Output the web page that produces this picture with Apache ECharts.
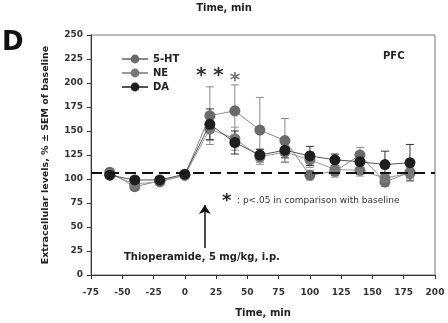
<!DOCTYPE html>
<html>
<head>
<meta charset="utf-8">
<script src="https://cdn.jsdelivr.net/npm/echarts@6/dist/echarts.min.js"></script>
<style>
  html, body { margin: 0; padding: 0; background: #fff; }
  #chart { width: 448px; height: 323px; }
</style>
</head>
<body>
<div id="chart"></div>
<script>
// time points (min) and % of baseline
var times = [-60, -40, -20, 0, 20, 40, 60, 80, 100, 120, 140, 160, 180]
var ht5 = [107, 92, 98, 104, 166, 171, 151, 140, 104, 108, 125, 97, 107]
var ne = [105, 95, 97, 104, 152, 142, 123, 128, 120, 110, 109, 101, 106]
var da = [104, 99, 99, 105, 157, 138, 125, 130, 124, 120, 118, 115, 117]
// SEM
var ht5Err = [4, 4, 3, 3, 30, 27, 34, 23, 5, 6, 8, 5, 6]
var neErr = [3, 4, 3, 3, 12, 12, 8, 10, 8, 6, 6, 6, 6]
var daErr = [3, 3, 3, 3, 16, 12, 6, 8, 10, 6, 6, 14, 19]
var baseline = 106
var arrowT = 16
var arrowFrom = 28
var arrowTo = 73

var font = 'DejaVu Sans'
var chart = echarts.init(document.getElementById('chart'))

function pts (vals) {
  return times.map(function (t, i) { return [t, vals[i]] })
}
function errPts (vals, errs) {
  return times.map(function (t, i) { return [t, vals[i], errs[i]] })
}
function errSeries (vals, errs, color) {
  return {
    type: 'custom',
    silent: true,
    z: 1,
    data: errPts(vals, errs),
    renderItem: function (params, api) {
      var x = api.value(0)
      var v = api.value(1)
      var e = api.value(2)
      var hi = api.coord([x, v + e])
      var lo = api.coord([x, v - e])
      var w = 4
      var st = { stroke: color, lineWidth: 1 }
      return {
        type: 'group',
        children: [
          { type: 'line', shape: { x1: hi[0], y1: hi[1], x2: lo[0], y2: lo[1] }, style: st },
          { type: 'line', shape: { x1: hi[0] - w, y1: hi[1], x2: hi[0] + w, y2: hi[1] }, style: st },
          { type: 'line', shape: { x1: lo[0] - w, y1: lo[1], x2: lo[0] + w, y2: lo[1] }, style: st }
        ]
      }
    }
  }
}

var option = {
  animation: false,
  textStyle: { fontFamily: font },
  grid: {
    left: 91, right: 13, top: 35, bottom: 48,
    show: true, borderColor: '#777', borderWidth: 1
  },
  legend: {
    data: ['5-HT', 'NE', 'DA'],
    orient: 'vertical',
    left: 116,
    top: 49,
    itemWidth: 26,
    itemHeight: 11,
    itemGap: 4,
    textStyle: { fontFamily: font, fontWeight: 'bold', fontSize: 10, color: '#222' }
  },
  xAxis: {
    type: 'value',
    min: -75, max: 200, interval: 25,
    name: 'Time, min',
    nameLocation: 'middle',
    nameGap: 33,
    nameTextStyle: { fontFamily: font, fontWeight: 'bold', fontSize: 10, color: '#222' },
    splitLine: { show: false },
    axisLine: { onZero: false, lineStyle: { color: '#333' } },
    axisTick: { length: 4, lineStyle: { color: '#333' } },
    axisLabel: { fontFamily: font, fontWeight: 'bold', fontSize: 9, color: '#333', margin: 13 }
  },
  yAxis: {
    type: 'value',
    min: 0, max: 250, interval: 25,
    name: 'Extracellular levels, % \u00b1 SEM of baseline',
    nameLocation: 'middle',
    nameGap: 40,
    nameTextStyle: { fontFamily: font, fontWeight: 'bold', fontSize: 9.5, color: '#222' },
    splitLine: { show: false },
    axisLine: { show: true, onZero: false, lineStyle: { color: '#333' } },
    axisTick: { show: true, length: 4, lineStyle: { color: '#333' } },
    axisLabel: { fontFamily: font, fontWeight: 'bold', fontSize: 9, color: '#333', margin: 8 }
  },
  graphic: [
    { type: 'text', left: 'center', top: 3, style: { text: 'Time, min', font: 'bold 10px "DejaVu Sans"', fill: '#222' }, x: 26 },
    { type: 'text', left: 2, top: 30, style: { text: 'D', font: 'bold 26px "DejaVu Sans"', fill: '#111' } },
    { type: 'text', left: 383, top: 51, style: { text: 'PFC', font: 'bold 10px "DejaVu Sans"', fill: '#222' } },
    { type: 'text', left: 222, top: 192, style: { text: '*', font: 'bold 18px "DejaVu Sans"', fill: '#222' } },
    { type: 'text', left: 237, top: 196, style: { text: ': p<.05 in comparison with baseline', font: '9px "DejaVu Sans"', fill: '#333' } },
    { type: 'text', left: 124, top: 252, style: { text: 'Thioperamide, 5 mg/kg, i.p.', font: 'bold 10px "DejaVu Sans"', fill: '#222' } }
  ],
  series: [
    errSeries(ht5, ht5Err, '#888'),
    errSeries(ne, neErr, '#999'),
    errSeries(da, daErr, '#333'),
    {
      name: '5-HT',
      type: 'line',
      data: pts(ht5),
      symbol: 'circle',
      symbolSize: 11,
      z: 3,
      itemStyle: { color: '#6a6a6a' },
      lineStyle: { color: '#8a8a8a', width: 1 },
      markPoint: {
        symbol: 'circle',
        symbolSize: 0,
        silent: true,
        label: { show: true, formatter: '{b}', fontFamily: font, fontSize: 20, fontWeight: 'bold' },
        data: [
          { name: '* *', coord: [20, 208], label: { color: '#333' } },
          { name: '*', coord: [40, 202], label: { color: '#777' } }
        ]
      }
    },
    {
      name: 'NE',
      type: 'line',
      data: pts(ne),
      symbol: 'circle',
      symbolSize: 11,
      z: 3,
      itemStyle: { color: '#777' },
      lineStyle: { color: '#999', width: 1 },
      markLine: {
        silent: true,
        symbol: ['none', 'arrow'],
        symbolSize: 9,
        label: { show: false },
        lineStyle: { color: '#111', width: 1.5, type: 'solid' },
        data: [[{ coord: [arrowT, arrowFrom] }, { coord: [arrowT, arrowTo] }]]
      }
    },
    {
      name: 'DA',
      type: 'line',
      data: pts(da),
      symbol: 'circle',
      symbolSize: 11,
      z: 4,
      itemStyle: { color: '#1e1e1e' },
      lineStyle: { color: '#555', width: 1 },
      markLine: {
        silent: true,
        symbol: 'none',
        label: { show: false },
        lineStyle: { color: '#111', width: 2, type: [11, 6] },
        data: [{ yAxis: baseline }]
      }
    }
  ]
}
chart.setOption(option)
</script>
</body>
</html>
